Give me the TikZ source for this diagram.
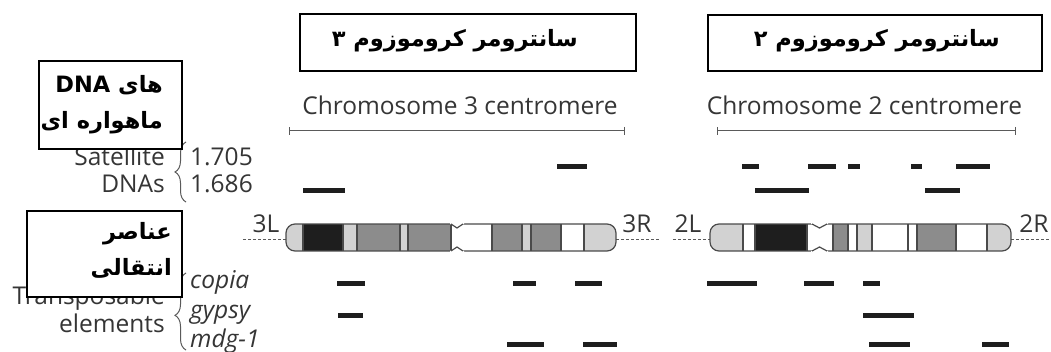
\documentclass[tikz,border=0pt]{standalone}
\usepackage{fontspec}
\setmainfont{Open Sans}
\newfontfamily\arabicfont[Script=Arabic]{DejaVu Sans}
\TeXXeTstate=1
\usetikzlibrary{arrows.meta,decorations.pathreplacing}

\definecolor{labelgrey}{HTML}{353535}
\definecolor{rulegrey}{HTML}{5A5A5A}
\definecolor{bandlight}{HTML}{D2D2D2}
\definecolor{banddark}{HTML}{8C8C8C}
\definecolor{bandblack}{HTML}{1E1E1E}
\definecolor{edgegrey}{HTML}{4A4A4A}

\tikzset{
  eng/.style={text=labelgrey, font=\fontsize{24.5}{28}\selectfont, inner sep=0pt},
  fabox/.style={draw=black, line width=2pt, fill=white, inner sep=0pt},
  fatext/.style={anchor=east, align=right, inner sep=0pt,
    font=\arabicfont\bfseries\fontsize{22.5}{36}\selectfont},
  hit/.style={draw=bandblack, line width=5pt},
  centrange/.style={draw=rulegrey, line width=1pt, {Bar[width=8pt]}-{Bar[width=8pt]}},
  armline/.style={draw=rulegrey, line width=1pt, dash pattern=on 3pt off 2pt},
  bandedge/.style={draw=edgegrey, line width=1.2pt},
  curly/.style={draw=rulegrey, line width=1pt, decorate},
}

\begin{document}
\begin{tikzpicture}[x=1pt,y=-1pt]
\useasboundingbox (0,0) rectangle (1051,352);

% centromere ranges
\node[eng, anchor=base] (c3name) at (460,115) {Chromosome 3 centromere};
\node[eng, anchor=base] (c2name) at (864.5,115) {Chromosome 2 centromere};
\draw[centrange] (289,131) -- (625,131);
\draw[centrange] (717,131) -- (1016,131);

% left hand labels
\node[eng, anchor=base east] (satA) at (165,166) {Satellite};
\node[eng, anchor=base east] (satB) at (165,193) {DNAs};
\node[eng, anchor=base west] (s1705) at (190,166) {1.705};
\node[eng, anchor=base west] (s1686) at (190,193) {1.686};
\node[eng, anchor=base east] (teA) at (165,305) {Transposable};
\node[eng, anchor=base east] (teB) at (165,332) {elements};
\node[eng, anchor=base west] (copia) at (190,289) {\itshape copia};
\node[eng, anchor=base west] (gypsy) at (190,318) {\itshape gypsy};
\node[eng, anchor=base west] (mdg) at (190,347) {\itshape mdg-1};
\draw[curly, decoration={brace, amplitude=11pt}] (186,202) -- (186,142);
\draw[curly, decoration={brace, amplitude=11pt, aspect=0.45}] (186,350) -- (186,273);

% arms
\draw[armline] (243,240) -- (286,240);
\draw[armline] (616,240) -- (660,240);
\draw[armline] (673,240) -- (710,240);
\draw[armline] (1011,240) -- (1051,240);
\node[eng, anchor=base] (arm3L) at (266,233) {3L};
\node[eng, anchor=base] (arm3R) at (637,233) {3R};
\node[eng, anchor=base] (arm2L) at (688,233) {2L};
\node[eng, anchor=base] (arm2R) at (1034,233) {2R};

% chromosome 3
\begin{scope}
\clip[rounded corners=9pt] (286,224) rectangle (616,251);
\foreach \a/\b/\c in {286/303/bandlight, 303/343/bandblack, 343/357/bandlight,
    357/400/banddark, 400/408/bandlight, 408/451/banddark, 451/492/white,
    492/522/banddark, 522/531/bandlight, 531/561/banddark, 561/584/white,
    584/616/bandlight}
  \fill[\c] (\a,224) rectangle (\b,251);
\end{scope}
\foreach \x in {303,343,357,400,408,451,492,522,531,561,584}
  \draw[bandedge] (\x,224) -- (\x,251);
\draw[bandedge, rounded corners=9pt] (286,224) rectangle (616,251);
\fill[white] (450,222) -- (464,222) -- (464,224) -- (457,228) -- (450,224) -- cycle;
\fill[white] (450,253) -- (464,253) -- (464,251) -- (457,247) -- (450,251) -- cycle;
\draw[bandedge] (451,224) -- (457,228) -- (463,224);
\draw[bandedge] (451,251) -- (457,247) -- (463,251);

% chromosome 2
\begin{scope}
\clip[rounded corners=9pt] (710,224) rectangle (1011,251);
\foreach \a/\b/\c in {710/743/bandlight, 743/755/white, 755/807/bandblack,
    807/833/white, 833/848/banddark, 848/857/white, 857/872/bandlight,
    872/917/white, 917/956/banddark, 956/987/white, 987/1011/bandlight}
  \fill[\c] (\a,224) rectangle (\b,251);
\end{scope}
\foreach \x in {743,755,807,833,848,857,872,908,917,956,987}
  \draw[bandedge] (\x,224) -- (\x,251);
\draw[bandedge, rounded corners=9pt] (710,224) rectangle (1011,251);
\fill[white] (811,222) -- (828,222) -- (828,224) -- (819.5,228) -- (811,224) -- cycle;
\fill[white] (811,253) -- (828,253) -- (828,251) -- (819.5,247) -- (811,251) -- cycle;
\draw[bandedge] (812,224) -- (819.5,228) -- (827,224);
\draw[bandedge] (812,251) -- (819.5,247) -- (827,251);

% hybridisation sites
\foreach \a/\b in {557/587, 742/759, 808/836, 848/860, 911/922, 956/990}
  \draw[hit] (\a,167) -- (\b,167);
\foreach \a/\b in {303/345, 755/809, 925/960}
  \draw[hit] (\a,191) -- (\b,191);
\foreach \a/\b in {337/365, 513/536, 575/602, 707/757, 804/834, 863/880}
  \draw[hit] (\a,284) -- (\b,284);
\foreach \a/\b in {338/363, 863/914}
  \draw[hit] (\a,315) -- (\b,315);
\foreach \a/\b in {507/544, 583/617, 869/910, 982/1009}
  \draw[hit] (\a,344) -- (\b,344);

% persian captions
\node[fabox, minimum width=336pt, minimum height=57pt] (c3box) at (468,42.5) {};
\node[fatext] (c3text) at (578,41) {\beginR سانترومر کروموزوم ۳\endR};
\node[fabox, minimum width=334pt, minimum height=56pt] (c2box) at (875,43) {};
\node[fatext] (c2text) at (1000,41) {\beginR سانترومر کروموزوم ۲\endR};
\node[fabox, minimum width=143pt, minimum height=88pt] (satbox) at (110.5,105) {};
\node[fatext] (sattext) at (163,105)
  {\beginR های \beginL DNA\endL\endR\\\beginR ماهواره ای\endR};
\node[fabox, minimum width=155pt, minimum height=86pt] (tebox) at (104.5,254) {};
\node[fatext] (tetext) at (172,250.5) {\beginR عناصر\endR\\\beginR انتقالی\endR};
\end{tikzpicture}
\end{document}
